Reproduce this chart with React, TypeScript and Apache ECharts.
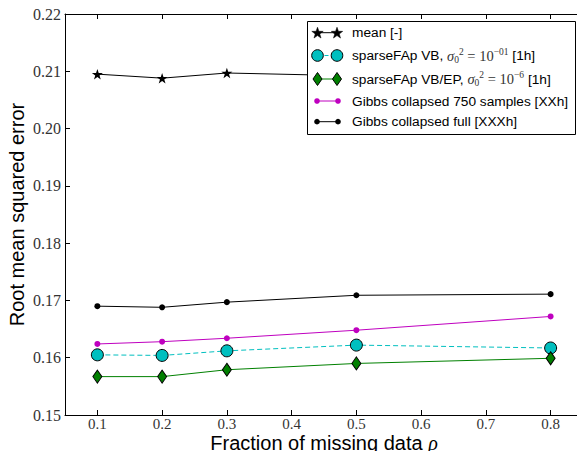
import React, { useEffect, useRef } from "react";
import * as echarts from "echarts";

const fractions = [0.1, 0.2, 0.3, 0.5, 0.8];
const meanRmse = [0.2095, 0.2088, 0.2097, 0.2092, 0.2091];
const vbRmse = [0.1605, 0.1604, 0.1612, 0.1622, 0.1617];
const vbEpRmse = [0.1567, 0.1567, 0.1579, 0.159, 0.1599];
const gibbs750Rmse = [0.1624, 0.1628, 0.1634, 0.1648, 0.1672];
const gibbsFullRmse = [0.169, 0.1688, 0.1697, 0.1709, 0.1711];
const xTicks = [0.1, 0.2, 0.3, 0.4, 0.5, 0.6, 0.7, 0.8];
const xTickLabels = ["0.1", "0.2", "0.3", "0.4", "0.5", "0.6", "0.7", "0.8"];
const yTickLabels = ["0.15", "0.16", "0.17", "0.18", "0.19", "0.20", "0.21", "0.22"];

const CYAN = "#00BFBF";
const GREEN = "#008000";
const MAGENTA = "#BF00BF";
const SERIF = "'Liberation Serif', 'DejaVu Serif', serif";
const SANS = "'Liberation Sans', Arial, sans-serif";

function starPts(cx: number, cy: number, R: number, r: number): number[][] {
  const pts: number[][] = [];
  for (let i = 0; i < 10; i++) {
    const rad = i % 2 === 0 ? R : r;
    const a = -Math.PI / 2 + (i * Math.PI) / 5;
    pts.push([cx + rad * Math.cos(a), cy + rad * Math.sin(a)]);
  }
  return pts;
}
const starPath =
  "path://M" +
  starPts(0, 0, 10, 3.9)
    .map((p) => p[0].toFixed(3) + "," + p[1].toFixed(3))
    .join("L") +
  "Z";

const pairs = (ys: number[]) => fractions.map((x, i) => [x, ys[i]]);

export default function App() {
  const ref = useRef<HTMLDivElement>(null);
  useEffect(() => {
    if (!ref.current) return;
    const chart = echarts.init(ref.current, null, { renderer: "svg" });

    const rowY = [32.7, 55.5, 79, 101, 121.7];
    const mx1 = 317.5;
    const mx2 = 337;
    const textX = 352;
    const legendEls: any[] = [];
    legendEls.push({
      type: "rect",
      z: 10,
      shape: { x: 307.5, y: 21.5, width: 268, height: 113 },
      style: { fill: "#fff", stroke: "#000", lineWidth: 1 },
    });
    const lineEl = (y: number, color: string, dash?: number[]) => ({
      type: "line",
      z: 11,
      shape: { x1: mx1, y1: y, x2: mx2, y2: y },
      style: { stroke: color, lineWidth: 1, lineDash: dash },
    });
    legendEls.push(lineEl(rowY[0], "#000"));
    [mx1, mx2].forEach((x) =>
      legendEls.push({
        type: "polygon",
        z: 12,
        shape: { points: starPts(x, rowY[0] + 0.5, 6, 2.4) },
        style: { fill: "#000", stroke: "#000", lineWidth: 0.5 },
      })
    );
    legendEls.push(lineEl(rowY[1], CYAN, [4, 3]));
    [mx1, mx2].forEach((x) =>
      legendEls.push({
        type: "circle",
        z: 12,
        shape: { cx: x, cy: rowY[1], r: 5.8 },
        style: { fill: CYAN, stroke: "#000", lineWidth: 1 },
      })
    );
    legendEls.push(lineEl(rowY[2], GREEN));
    [mx1, mx2].forEach((x) =>
      legendEls.push({
        type: "polygon",
        z: 12,
        shape: {
          points: [
            [x, rowY[2] - 6.5],
            [x + 4.5, rowY[2]],
            [x, rowY[2] + 6.5],
            [x - 4.5, rowY[2]],
          ],
        },
        style: { fill: GREEN, stroke: "#000", lineWidth: 1 },
      })
    );
    [
      [rowY[3], MAGENTA],
      [rowY[4], "#000"],
    ].forEach(([y, c]: any) => {
      legendEls.push(lineEl(y, c));
      [mx1 - 0.5, mx2 + 1].forEach((x) =>
        legendEls.push({
          type: "circle",
          z: 12,
          shape: { cx: x, cy: y, r: 2.8 },
          style: { fill: c },
        })
      );
    });

    const rich = {
      s: { fontFamily: SERIF, fontStyle: "italic", fontSize: 14.5, fill: "#333", lineHeight: 18 },
      sub: { fontFamily: SERIF, fontSize: 9.5, fill: "#333", lineHeight: 17, verticalAlign: "bottom" },
      sup: { fontFamily: SERIF, fontSize: 9.5, fill: "#333", lineHeight: 17, verticalAlign: "top" },
      m: { fontFamily: SERIF, fontSize: 14.5, fill: "#333", lineHeight: 18 },
      e: { fontFamily: SERIF, fontSize: 9.5, fill: "#333", lineHeight: 15, verticalAlign: "top" },
    };
    const legendTexts = [
      "mean [-]",
      "sparseFAp VB, {s|σ}{sub|0}{sup|2}{m| = 10}{e|−01} [1h]",
      "sparseFAp VB/EP, {s|σ}{sub|0}{sup|2}{m| = 10}{e|−6} [1h]",
      "Gibbs collapsed 750 samples [XXh]",
      "Gibbs collapsed full [XXXh]",
    ];
    legendTexts.forEach((t, i) =>
      legendEls.push({
        type: "text",
        z: 12,
        style: {
          x: textX,
          y: rowY[i],
          text: t,
          fontFamily: SANS,
          fontSize: 13.7,
          fill: "#000",
          verticalAlign: "middle",
          lineHeight: 18,
          rich,
        },
      })
    );

    const axisLine = { show: true, onZero: false, lineStyle: { color: "#000", width: 1 } };

    chart.setOption({
      animation: false,
      backgroundColor: "#fff",
      grid: {
        left: 65,
        top: 14,
        width: 518,
        height: 401,
        containLabel: false,
        outerBoundsMode: "none",
      },
      xAxis: [
        {
          type: "value",
          min: 0.05,
          max: 0.85,
          axisLine,
          axisTick: { show: true, inside: true, length: 5, customValues: xTicks, lineStyle: { color: "#000" } },
          axisLabel: {
            show: true,
            customValues: xTicks,
            formatter: (v: number) => xTickLabels[Math.round(v * 10) - 1] ?? "",
            fontFamily: SERIF,
            fontSize: 15,
            lineHeight: 12,
            color: "#333",
            margin: 3,
          },
          splitLine: { show: false },
          name: "Fraction of missing data {r|ρ}",
          nameLocation: "middle",
          nameGap: 22,
          nameMoveOverlap: false,
          nameTextStyle: {
            fontFamily: SANS,
            fontSize: 20,
            lineHeight: 12,
            color: "#000",
            verticalAlign: "top",
            rich: { r: { fontFamily: SERIF, fontStyle: "italic", fontSize: 20, lineHeight: 12, color: "#000" } },
          },
        },
        {
          type: "value",
          position: "top",
          min: 0.05,
          max: 0.85,
          axisLine,
          axisTick: { show: true, inside: true, length: 5, customValues: xTicks, lineStyle: { color: "#000" } },
          axisLabel: { show: false },
          splitLine: { show: false },
        },
      ],
      yAxis: [
        {
          type: "value",
          min: 0.15,
          max: 0.22,
          interval: 0.01,
          axisLine,
          axisTick: { show: true, inside: true, length: 5, lineStyle: { color: "#000" } },
          axisLabel: {
            formatter: (v: number) => yTickLabels[Math.round((v - 0.15) * 100)] ?? "",
            fontFamily: SERIF,
            fontSize: 16,
            color: "#333",
            margin: 4,
          },
          splitLine: { show: false },
          name: "Root mean squared error",
          nameLocation: "middle",
          nameGap: 38,
          nameMoveOverlap: false,
          nameTextStyle: { fontFamily: SANS, fontSize: 20, color: "#000" },
        },
      ],
      series: [
        {
          name: "mean [-]",
          type: "line",
          data: pairs(meanRmse),
          symbol: starPath,
          symbolSize: 11,
          symbolKeepAspect: true,
          lineStyle: { color: "#000", width: 1 },
          itemStyle: { color: "#000" },
        },
        {
          name: "sparseFAp VB",
          type: "line",
          data: pairs(vbRmse),
          symbol: "circle",
          symbolSize: 12,
          lineStyle: { color: CYAN, width: 1, type: [5, 3] },
          itemStyle: { color: CYAN, borderColor: "#000", borderWidth: 1 },
        },
        {
          name: "sparseFAp VB/EP",
          type: "line",
          data: pairs(vbEpRmse),
          symbol: "diamond",
          symbolSize: [9, 13],
          lineStyle: { color: GREEN, width: 1 },
          itemStyle: { color: GREEN, borderColor: "#000", borderWidth: 1 },
        },
        {
          name: "Gibbs collapsed 750 samples [XXh]",
          type: "line",
          data: pairs(gibbs750Rmse),
          symbol: "circle",
          symbolSize: 6,
          lineStyle: { color: MAGENTA, width: 1 },
          itemStyle: { color: MAGENTA },
        },
        {
          name: "Gibbs collapsed full [XXXh]",
          type: "line",
          data: pairs(gibbsFullRmse),
          symbol: "circle",
          symbolSize: 6,
          lineStyle: { color: "#000", width: 1 },
          itemStyle: { color: "#000" },
        },
      ],
      graphic: legendEls,
    });
    return () => chart.dispose();
  }, []);
  return (
    <div
      ref={ref}
      style={{ position: "fixed", left: 0, top: 0, width: 577, height: 451, background: "#fff" }}
    />
  );
}
